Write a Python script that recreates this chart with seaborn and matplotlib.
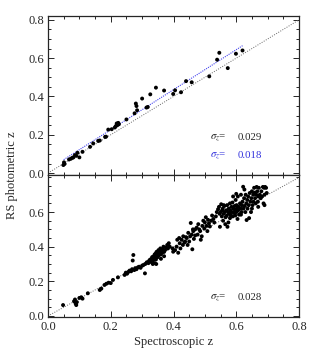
import matplotlib
matplotlib.use("Agg")
import matplotlib.pyplot as plt
import seaborn as sns
import numpy as np
import pandas as pd
from matplotlib.ticker import MultipleLocator

# ---------------- data ----------------
top_x = [0.049, 0.051, 0.053, 0.067, 0.073, 0.078, 0.081, 0.086, 0.090, 0.094,
         0.100, 0.110, 0.134, 0.144, 0.160, 0.165, 0.182, 0.185, 0.192, 0.203,
         0.213, 0.216, 0.219, 0.221, 0.224, 0.226, 0.250, 0.276, 0.280, 0.282,
         0.284, 0.300, 0.314, 0.318, 0.326, 0.344, 0.370, 0.399, 0.405, 0.424,
         0.440, 0.458, 0.514, 0.539, 0.546, 0.573, 0.599, 0.620]
top_y = [0.042, 0.056, 0.048, 0.071, 0.075, 0.080, 0.082, 0.094, 0.090, 0.106,
         0.082, 0.111, 0.137, 0.155, 0.168, 0.170, 0.189, 0.190, 0.227, 0.229,
         0.238, 0.245, 0.259, 0.250, 0.262, 0.255, 0.280, 0.312, 0.363, 0.350,
         0.328, 0.389, 0.342, 0.345, 0.411, 0.446, 0.431, 0.413, 0.432, 0.422,
         0.480, 0.474, 0.505, 0.592, 0.628, 0.548, 0.623, 0.640]

fit_x = [0.05, 0.62]
fit_y = [0.070, 0.665]

bot_x = [0.048, 0.083, 0.086, 0.088, 0.090, 0.092, 0.100, 0.106, 0.110, 0.127,
         0.165, 0.170, 0.180, 0.186, 0.193, 0.200, 0.207, 0.223, 0.244, 0.248,
         0.252, 0.256, 0.260, 0.265, 0.268, 0.270, 0.272, 0.275, 0.278, 0.282,
         0.286, 0.290, 0.295, 0.300, 0.304, 0.309, 0.310, 0.315, 0.320,
         0.322, 0.325, 0.328, 0.330, 0.332, 0.334, 0.335, 0.337, 0.338, 0.340,
         0.341, 0.343, 0.344, 0.345, 0.346, 0.348, 0.350, 0.350, 0.352, 0.353,
         0.355, 0.356, 0.358, 0.360, 0.362, 0.364, 0.366, 0.368, 0.370, 0.373,
         0.376, 0.380, 0.382, 0.385, 0.388, 0.340, 0.345, 0.360, 0.370,
         0.397, 0.399, 0.405, 0.410, 0.412, 0.415, 0.418, 0.420, 0.422, 0.426,
         0.430, 0.431, 0.435, 0.437, 0.440, 0.442, 0.445, 0.447, 0.450, 0.453,
         0.455, 0.458, 0.460, 0.462, 0.463, 0.465, 0.469, 0.469,
         0.474, 0.477, 0.479, 0.482, 0.485, 0.487, 0.490, 0.492, 0.495, 0.498,
         0.500, 0.503, 0.505, 0.508, 0.510, 0.513, 0.516, 0.520, 0.523, 0.527,
         0.530, 0.535, 0.538,
         0.542, 0.545, 0.547, 0.548, 0.550, 0.552, 0.554, 0.555, 0.557, 0.558,
         0.560, 0.562, 0.563, 0.565, 0.566, 0.568, 0.570, 0.571, 0.572, 0.574,
         0.575, 0.576, 0.578, 0.580, 0.581, 0.583, 0.585, 0.586, 0.588, 0.589,
         0.590, 0.591, 0.593, 0.595, 0.596, 0.597, 0.598, 0.600, 0.601, 0.602,
         0.604, 0.605, 0.606, 0.608, 0.609, 0.611, 0.612, 0.614, 0.615, 0.617,
         0.618, 0.620, 0.622, 0.623, 0.625, 0.626, 0.627, 0.629, 0.630, 0.632,
         0.633, 0.635, 0.636, 0.638, 0.640, 0.641, 0.643, 0.645, 0.647, 0.648,
         0.650, 0.652, 0.654, 0.655, 0.657, 0.659, 0.660, 0.662, 0.664, 0.665,
         0.667, 0.669, 0.670, 0.672, 0.675, 0.678, 0.680, 0.682, 0.685, 0.687,
         0.689, 0.690, 0.692, 0.695, 0.697, 0.560, 0.580, 0.600, 0.615, 0.650,
         0.670, 0.690]
bot_y = [0.063, 0.085, 0.095, 0.072, 0.063, 0.080, 0.104, 0.108, 0.100, 0.131,
         0.150, 0.158, 0.179, 0.186, 0.192, 0.190, 0.208, 0.223, 0.237, 0.250,
         0.244, 0.254, 0.262, 0.258, 0.270, 0.320, 0.352, 0.265, 0.276, 0.270,
         0.280, 0.284, 0.278, 0.290, 0.294, 0.246, 0.300, 0.310, 0.305,
         0.318, 0.325, 0.312, 0.330, 0.340, 0.300, 0.322, 0.345, 0.330, 0.355,
         0.338, 0.360, 0.326, 0.345, 0.370, 0.352, 0.340, 0.365, 0.380, 0.350,
         0.360, 0.372, 0.390, 0.355, 0.375, 0.366, 0.385, 0.400, 0.370, 0.380,
         0.395, 0.410, 0.390, 0.420, 0.400, 0.305, 0.300, 0.330, 0.345,
         0.390, 0.371, 0.380, 0.400, 0.440, 0.365, 0.450, 0.420, 0.390, 0.440,
         0.410, 0.460, 0.425, 0.430, 0.455, 0.450, 0.410, 0.480, 0.430, 0.460,
         0.537, 0.470, 0.385, 0.500, 0.490, 0.445, 0.500, 0.465,
         0.510, 0.470, 0.530, 0.500, 0.490, 0.440, 0.460, 0.520, 0.550, 0.505,
         0.540, 0.570, 0.520, 0.490, 0.555, 0.535, 0.517, 0.550, 0.580, 0.560,
         0.540, 0.575, 0.600,
         0.616, 0.630, 0.590, 0.515, 0.600, 0.645, 0.575, 0.610, 0.620, 0.550,
         0.590, 0.635, 0.600, 0.530, 0.570, 0.610, 0.580, 0.640, 0.515, 0.600,
         0.540, 0.620, 0.590, 0.565, 0.610, 0.580, 0.630, 0.600, 0.655, 0.575,
         0.690, 0.620, 0.595, 0.635, 0.610, 0.580, 0.670, 0.600, 0.640, 0.620,
         0.560, 0.690, 0.610, 0.630, 0.585, 0.588, 0.650, 0.620, 0.700, 0.600,
         0.640, 0.660, 0.746, 0.620, 0.680, 0.730, 0.635, 0.600, 0.700, 0.650,
         0.554, 0.670, 0.620, 0.690, 0.640, 0.565, 0.710, 0.660, 0.600, 0.680,
         0.720, 0.640, 0.700, 0.660, 0.740, 0.712, 0.680, 0.650, 0.700, 0.745,
         0.720, 0.660, 0.690, 0.740, 0.700, 0.680, 0.720, 0.690, 0.745, 0.650,
         0.740, 0.700, 0.745, 0.740, 0.710, 0.640, 0.650, 0.705, 0.585, 0.620,
         0.630, 0.640]

diag = [0.0, 0.8]
x_ticks = [0.0, 0.2, 0.4, 0.6, 0.8]
y_ticks = [0.0, 0.2, 0.4, 0.6, 0.8]

# ---------------- style ----------------
sns.set_theme(style="ticks")
plt.rcParams["font.family"] = ["Liberation Serif", "DejaVu Serif"]
plt.rcParams["mathtext.fontset"] = "stix"

fig = plt.figure(figsize=(3.15, 3.54), dpi=100)
L, R = 48 / 315, 299 / 315
ax1 = fig.add_axes([L, 1 - 175 / 354, R - L, (175 - 16) / 354])
ax2 = fig.add_axes([L, 1 - 317 / 354, R - L, (317 - 175) / 354])

df_top = pd.DataFrame({"x": top_x, "y": top_y})
df_bot = pd.DataFrame({"x": bot_x, "y": bot_y})

for ax, df in ((ax1, df_top), (ax2, df_bot)):
    ax.plot(diag, diag, linestyle=(0, (1, 1.5)), color="#666666", lw=0.7, zorder=1)
    sns.scatterplot(data=df, x="x", y="y", ax=ax, color="black", s=8,
                    edgecolor="none", zorder=3, legend=False)
    ax.set_xlim(0, 0.8)
    ax.xaxis.set_major_locator(MultipleLocator(0.2))
    ax.xaxis.set_minor_locator(MultipleLocator(0.05))
    ax.yaxis.set_major_locator(MultipleLocator(0.2))
    ax.yaxis.set_minor_locator(MultipleLocator(0.05))
    ax.tick_params(which="both", direction="in", top=True, right=True,
                   labelsize=9, width=0.7, pad=3)
    ax.tick_params(which="major", length=4)
    ax.tick_params(which="minor", length=2)
    for s in ax.spines.values():
        s.set_linewidth(0.9)
    ax.set_xlabel("")
    ax.set_ylabel("")

ax1.plot(fit_x, fit_y, linestyle=(0, (1, 1)), color="#4444ee", lw=0.8, zorder=2)

ax1.set_ylim(-0.01, 0.82)
ax2.set_ylim(-0.006, 0.814)
ax1.set_yticks(y_ticks)
ax2.set_yticks(y_ticks[:-1])
ax1.set_xticks(x_ticks)
ax2.set_xticks(x_ticks)
ax1.tick_params(labelbottom=False)
ax1.set_yticklabels([f"{v:.1f}" for v in y_ticks])
ax2.set_yticklabels([f"{v:.1f}" for v in y_ticks[:-1]])
ax2.set_xticklabels([f"{v:.1f}" for v in x_ticks])

fs = 7.8
ax1.text(0.515, 0.188, r"$\sigma_z$=", fontsize=fs, va="center", ha="left")
ax1.text(0.605, 0.188, "0.029", fontsize=fs, va="center", ha="left")
ax1.text(0.515, 0.094, r"$\sigma_z$=", fontsize=fs, va="center", ha="left", color="#3333dd")
ax1.text(0.605, 0.094, "0.018", fontsize=fs, va="center", ha="left", color="#3333dd")
ax2.text(0.515, 0.106, r"$\sigma_z$=", fontsize=fs, va="center", ha="left")
ax2.text(0.605, 0.106, "0.028", fontsize=fs, va="center", ha="left")

ax2.set_xlabel("Spectroscopic z", fontsize=9, labelpad=2)
fig.text(0.038, 1 - 175 / 354, "RS photometric z", rotation=90, fontsize=9,
         va="center", ha="center")

fig.savefig("out.png", dpi=100)
